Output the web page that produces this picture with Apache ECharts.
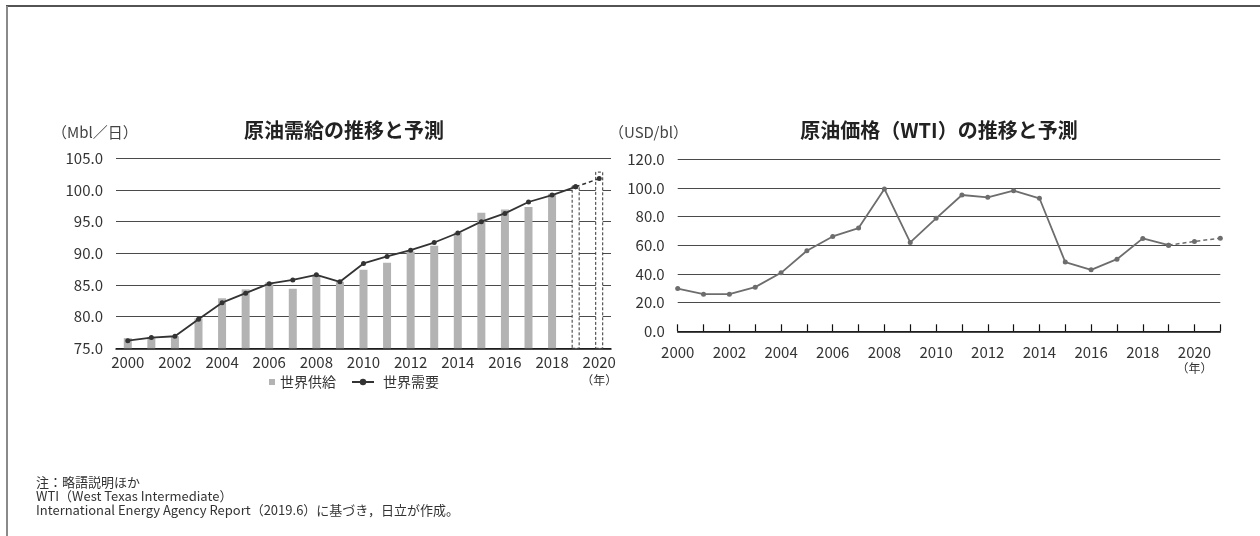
<!DOCTYPE html>
<html><head><meta charset="utf-8">
<script src="https://cdn.jsdelivr.net/npm/echarts@6/dist/echarts.min.js"></script>
<style>html,body{margin:0;padding:0;background:#fff}#c{width:1260px;height:536px}</style>
</head><body><div id="c"></div>
<script>
// ---- data: chart 1 (原油需給) ----
const years = ['2000','2001','2002','2003','2004','2005','2006','2007','2008','2009','2010','2011','2012','2013','2014','2015','2016','2017','2018','2019','2020'];
const supply = [76.6,76.8,76.9,79.7,82.9,84.3,85.4,84.4,86.5,85.5,87.4,88.5,90.3,91.2,93.3,96.4,96.9,97.3,99.4,100.7,102.9];
const demand = [76.2,76.7,76.9,79.6,82.2,83.7,85.2,85.8,86.6,85.5,88.4,89.5,90.5,91.7,93.2,95.0,96.3,98.1,99.2,100.5,101.8];
const forecastFrom1 = '2019';
const yMin1 = 75, yMax1 = 105, yStep1 = 5;

// ---- data: chart 2 (WTI) ----
const wtiYears = ['2000','2001','2002','2003','2004','2005','2006','2007','2008','2009','2010','2011','2012','2013','2014','2015','2016','2017','2018','2019','2020','2021'];
const wti = [29.8,25.9,25.9,30.8,40.8,56.2,66.2,72.0,99.3,62.0,78.8,95.1,93.5,98.1,92.8,48.3,42.9,50.3,64.8,60.1,62.7,65.0];
const forecastFrom2 = '2019';
const yMin2 = 0, yMax2 = 120, yStep2 = 20;

// ---- texts ----
const title1 = '原油需給の推移と予測';
const title2 = '原油価格（WTI）の推移と予測';
const unit1 = '（Mbl／日）';
const unit2 = '（USD/bl）';
const yearUnit = '（年）';
const notes = ['注：略語説明ほか','WTI（West Texas Intermediate）','International Energy Agency Report（2019.6）に基づき，日立が作成。'];

const FONT = '"Noto Sans CJK JP", "Noto Sans", sans-serif';
const fi1 = years.indexOf(forecastFrom1);
const fi2 = wtiYears.indexOf(forecastFrom2);

const supplyData = supply.map((v, i) => i < fi1 ? v : {
  value: v,
  itemStyle: { color: '#fff', borderColor: '#333', borderWidth: 1, borderType: [3, 2] }
});
const demandSolid = demand.map((v, i) => i <= fi1 ? v : null);
const demandDash = demand.map((v, i) => i >= fi1 ? v : null);
const wtiSolid = wti.map((v, i) => i <= fi2 ? v : null);
const wtiDash = wti.map((v, i) => i >= fi2 ? v : null);

function xLabel(lh) {
  return {
    interval: 1,
    formatter: v => v === '2020' ? '{a|' + v + '}\n{b|' + yearUnit + '}' : '{a|' + v + '}',
    rich: {
      a: { fontSize: 15, lineHeight: lh, color: '#333', fontFamily: FONT },
      b: { fontSize: 12, lineHeight: lh, color: '#333', fontFamily: FONT }
    }
  };
}

const chart = echarts.init(document.getElementById('c'), null, { renderer: 'canvas' });
chart.setOption({
  animation: false,
  backgroundColor: '#fff',
  textStyle: { fontFamily: FONT },
  title: [
    { text: title1, left: 344, top: 120, textAlign: 'center', padding: 0,
      textStyle: { fontSize: 20, fontWeight: 'bold', color: '#222', fontFamily: FONT } },
    { text: title2, left: 939, top: 120, textAlign: 'center', padding: 0,
      textStyle: { fontSize: 20, fontWeight: 'bold', color: '#222', fontFamily: FONT } }
  ],
  legend: [
    { data: [{ name: '世界供給', icon: 'rect' }], left: 269, top: 375, padding: 0,
      itemWidth: 6, itemHeight: 6, itemGap: 0,
      textStyle: { fontSize: 14, color: '#333', fontFamily: FONT } },
    { data: ['世界需要'], left: 351, top: 375, padding: 0,
      itemWidth: 22, itemHeight: 8, itemGap: 0,
      textStyle: { fontSize: 14, color: '#333', fontFamily: FONT, padding: [0, 0, 0, 4] } }
  ],
  grid: [
    { left: 116, top: 158.3, width: 495, height: 190 },
    { left: 677.7, top: 159.3, width: 542.6, height: 172 }
  ],
  xAxis: [
    { type: 'category', gridIndex: 0, data: years, boundaryGap: true,
      axisLine: { lineStyle: { color: '#111', width: 1.5 } },
      axisTick: { show: false },
      axisLabel: Object.assign({ margin: 4 }, xLabel(19)) },
    { type: 'category', gridIndex: 1, data: wtiYears, boundaryGap: false,
      axisLine: { lineStyle: { color: '#111', width: 1.5 } },
      axisTick: { show: true, inside: true, length: 7, interval: 0, lineStyle: { color: '#111', width: 1.2 } },
      axisLabel: Object.assign({ margin: 12 }, xLabel(17)) }
  ],
  yAxis: [
    { type: 'value', gridIndex: 0, min: yMin1, max: yMax1, interval: yStep1,
      axisLine: { show: false }, axisTick: { show: false },
      axisLabel: { fontSize: 15, color: '#333', margin: 13, fontFamily: FONT, formatter: v => v.toFixed(1) },
      splitLine: { lineStyle: { color: '#4a4a4a', width: 1 } } },
    { type: 'value', gridIndex: 1, min: yMin2, max: yMax2, interval: yStep2,
      axisLine: { show: false }, axisTick: { show: false },
      axisLabel: { fontSize: 15, color: '#333', margin: 13, fontFamily: FONT, formatter: v => v.toFixed(1) },
      splitLine: { lineStyle: { color: '#4a4a4a', width: 1 } } }
  ],
  series: [
    { name: '世界供給', type: 'bar', xAxisIndex: 0, yAxisIndex: 0, data: supplyData,
      barWidth: 8, itemStyle: { color: '#b3b3b3' }, z: 2 },
    { name: '世界需要', type: 'line', xAxisIndex: 0, yAxisIndex: 0, data: demandSolid,
      symbol: 'circle', symbolSize: 5, showSymbol: true,
      lineStyle: { color: '#333', width: 1.8 }, itemStyle: { color: '#333' }, z: 3 },
    { name: '世界需要予測', type: 'line', xAxisIndex: 0, yAxisIndex: 0, data: demandDash,
      symbol: 'circle', symbolSize: 5,
      lineStyle: { color: '#333', width: 1.5, type: [4, 3] }, itemStyle: { color: '#333' }, z: 3 },
    { name: 'WTI', type: 'line', xAxisIndex: 1, yAxisIndex: 1, data: wtiSolid,
      symbol: 'circle', symbolSize: 5,
      lineStyle: { color: '#6d6d6d', width: 1.8 }, itemStyle: { color: '#6d6d6d' }, z: 3 },
    { name: 'WTI予測', type: 'line', xAxisIndex: 1, yAxisIndex: 1, data: wtiDash,
      symbol: 'circle', symbolSize: 5,
      lineStyle: { color: '#6d6d6d', width: 1.5, type: [4, 3] }, itemStyle: { color: '#6d6d6d' }, z: 3 }
  ],
  graphic: [
    { type: 'line', shape: { x1: 6, y1: 6, x2: 1260, y2: 6 }, style: { stroke: '#1a1a1a', lineWidth: 1.5 } },
    { type: 'line', shape: { x1: 7, y1: 6, x2: 7, y2: 536 }, style: { stroke: '#8a8a8a', lineWidth: 2 } },
    { type: 'text', style: { text: unit1, x: 52, y: 132, verticalAlign: 'middle', font: '15px ' + FONT, fill: '#444' } },
    { type: 'text', style: { text: unit2, x: 609, y: 132, verticalAlign: 'middle', font: '15px ' + FONT, fill: '#444' } },
    { type: 'text', style: { text: notes[0], x: 36, y: 482.5, verticalAlign: 'middle', font: '13px ' + FONT, fill: '#333' } },
    { type: 'text', style: { text: notes[1], x: 36, y: 496.5, verticalAlign: 'middle', font: '13px ' + FONT, fill: '#333' } },
    { type: 'text', style: { text: notes[2], x: 36, y: 510, verticalAlign: 'middle', font: '13px ' + FONT, fill: '#333' } }
  ]
});
</script>
</body></html>
